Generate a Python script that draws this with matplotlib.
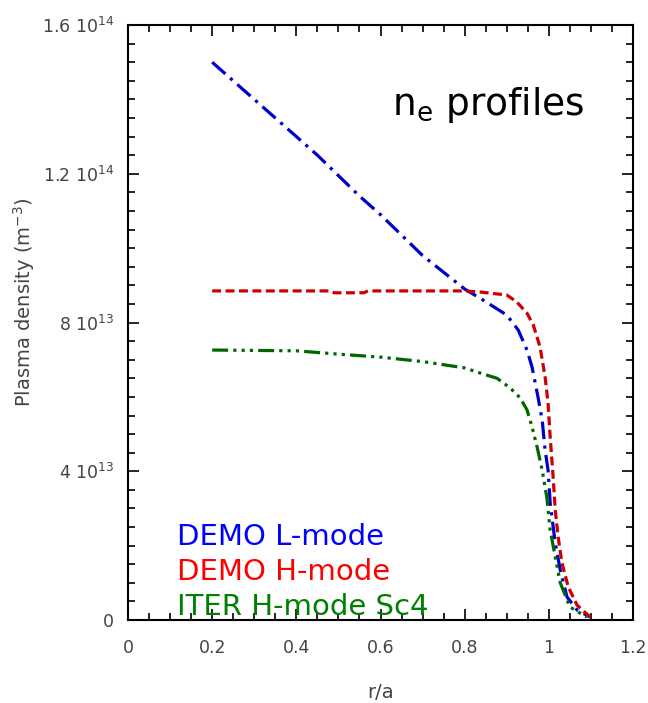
import numpy as np
import matplotlib.pyplot as plt
from matplotlib.ticker import FixedLocator, MultipleLocator

## Density profiles, n_e in units of 1e13 m^-3
demo_l_r = [0.2, 0.25, 0.3, 0.35, 0.4, 0.45, 0.5, 0.55, 0.6, 0.65, 0.7, 0.75, 0.8, 0.84, 0.9,
            0.927, 0.948, 0.96, 0.967, 0.974, 0.984, 0.991, 0.998, 1.003, 1.015, 1.027,
            1.043, 1.067, 1.098]
demo_l_ne = [15.0, 14.5, 14.0, 13.5, 13.0, 12.5, 11.95, 11.4, 10.9, 10.35, 9.8, 9.35, 8.9, 8.63, 8.2,
             7.8, 7.26, 6.8, 6.4, 6.0, 5.38, 4.57, 4.03, 3.15, 2.07, 1.34,
             0.62, 0.27, 0.08]

demo_h_r = [0.2, 0.25, 0.3, 0.35, 0.4, 0.48, 0.49, 0.56, 0.57, 0.6, 0.7, 0.8, 0.837, 0.9, 0.924,
            0.948, 0.963, 0.979, 0.991, 0.998, 1.003, 1.01, 1.015, 1.022, 1.031, 1.046,
            1.067, 1.098]
demo_h_ne = [8.85, 8.85, 8.85, 8.85, 8.85, 8.85, 8.8, 8.8, 8.85, 8.85, 8.85, 8.85, 8.82, 8.74, 8.55,
             8.25, 7.93, 7.34, 6.53, 5.83, 4.92, 3.85, 2.96, 2.23, 1.53, 0.89,
             0.4, 0.08]

iter_h_r = [0.2, 0.3, 0.4, 0.5, 0.6, 0.7, 0.8, 0.837, 0.877, 0.908, 0.932, 0.948, 0.96,
            0.972, 0.984, 0.995, 1.003, 1.015, 1.027, 1.05, 1.09]
iter_h_ne = [7.26, 7.25, 7.24, 7.15, 7.07, 6.95, 6.78, 6.64, 6.5, 6.24, 5.97, 5.65, 5.19,
             4.65, 4.03, 3.3, 2.42, 1.7, 1.0, 0.35, 0.08]

y_ticks = [0, 4e13, 8e13, 1.2e14, 1.6e14]
y_tick_labels = ['0', r'4 10$^{13}$', r'8 10$^{13}$', r'1.2 10$^{14}$', r'1.6 10$^{14}$']
x_ticks = [0, 0.2, 0.4, 0.6, 0.8, 1, 1.2]
x_tick_labels = ['0', '0.2', '0.4', '0.6', '0.8', '1', '1.2']

labels = ['DEMO L-mode', 'DEMO H-mode', 'ITER H-mode Sc4']


fig = plt.figure(figsize=(6.48, 7.03), dpi=100)
ax = fig.add_axes([0.1975, 0.118, 0.7795, 0.8464])

ax.plot(demo_l_r, np.array(demo_l_ne)*1e13, color='#0000cc', lw=2.3, dashes=(5.5, 2, 1, 2))
ax.plot(demo_h_r, np.array(demo_h_ne)*1e13, color='#cc0000', lw=2.3, dashes=(2.8, 1.4))
ax.plot(iter_h_r, np.array(iter_h_ne)*1e13, color='#006600', lw=2.3,
        dashes=(5, 1.6, 1, 1.6, 1, 1.6, 1, 1.6))

ax.set_xlim(0, 1.2)
ax.set_ylim(0, 1.6e14)
ax.xaxis.set_major_locator(FixedLocator(x_ticks))
ax.set_xticklabels(x_tick_labels)
ax.xaxis.set_minor_locator(MultipleLocator(0.05))
ax.yaxis.set_major_locator(FixedLocator(y_ticks))
ax.set_yticklabels(y_tick_labels)
ax.yaxis.set_minor_locator(MultipleLocator(5e12))
ax.tick_params(which='both', direction='in', top=True, right=True, colors='black',
               labelcolor='#444444', labelsize=12.5, width=1.2)
ax.tick_params(which='major', length=8)
ax.tick_params(axis='x', which='major', pad=14)
ax.tick_params(axis='y', which='major', pad=10)
ax.tick_params(which='minor', length=5)
for s in ax.spines.values():
    s.set_linewidth(1.5)

ax.set_xlabel('r/a', color='#444444', fontsize=14)
ax.xaxis.set_label_coords(0.5, -0.106)
ax.set_ylabel(r'Plasma density (m$^{-3}$)', color='#444444', fontsize=14)
ax.yaxis.set_label_coords(-0.18, 0.534)

ax.text(0.523, 0.866, r'n$_\mathregular{e}$ profiles', transform=ax.transAxes, fontsize=27,
        va='center')
for lab, col, yy in zip(labels, ['#0000ff', '#ff0000', '#008000'], [0.139, 0.081, 0.022]):
    ax.text(0.098, yy, lab, transform=ax.transAxes, fontsize=21, color=col, va='center')

plt.savefig('out.png', dpi=100)
